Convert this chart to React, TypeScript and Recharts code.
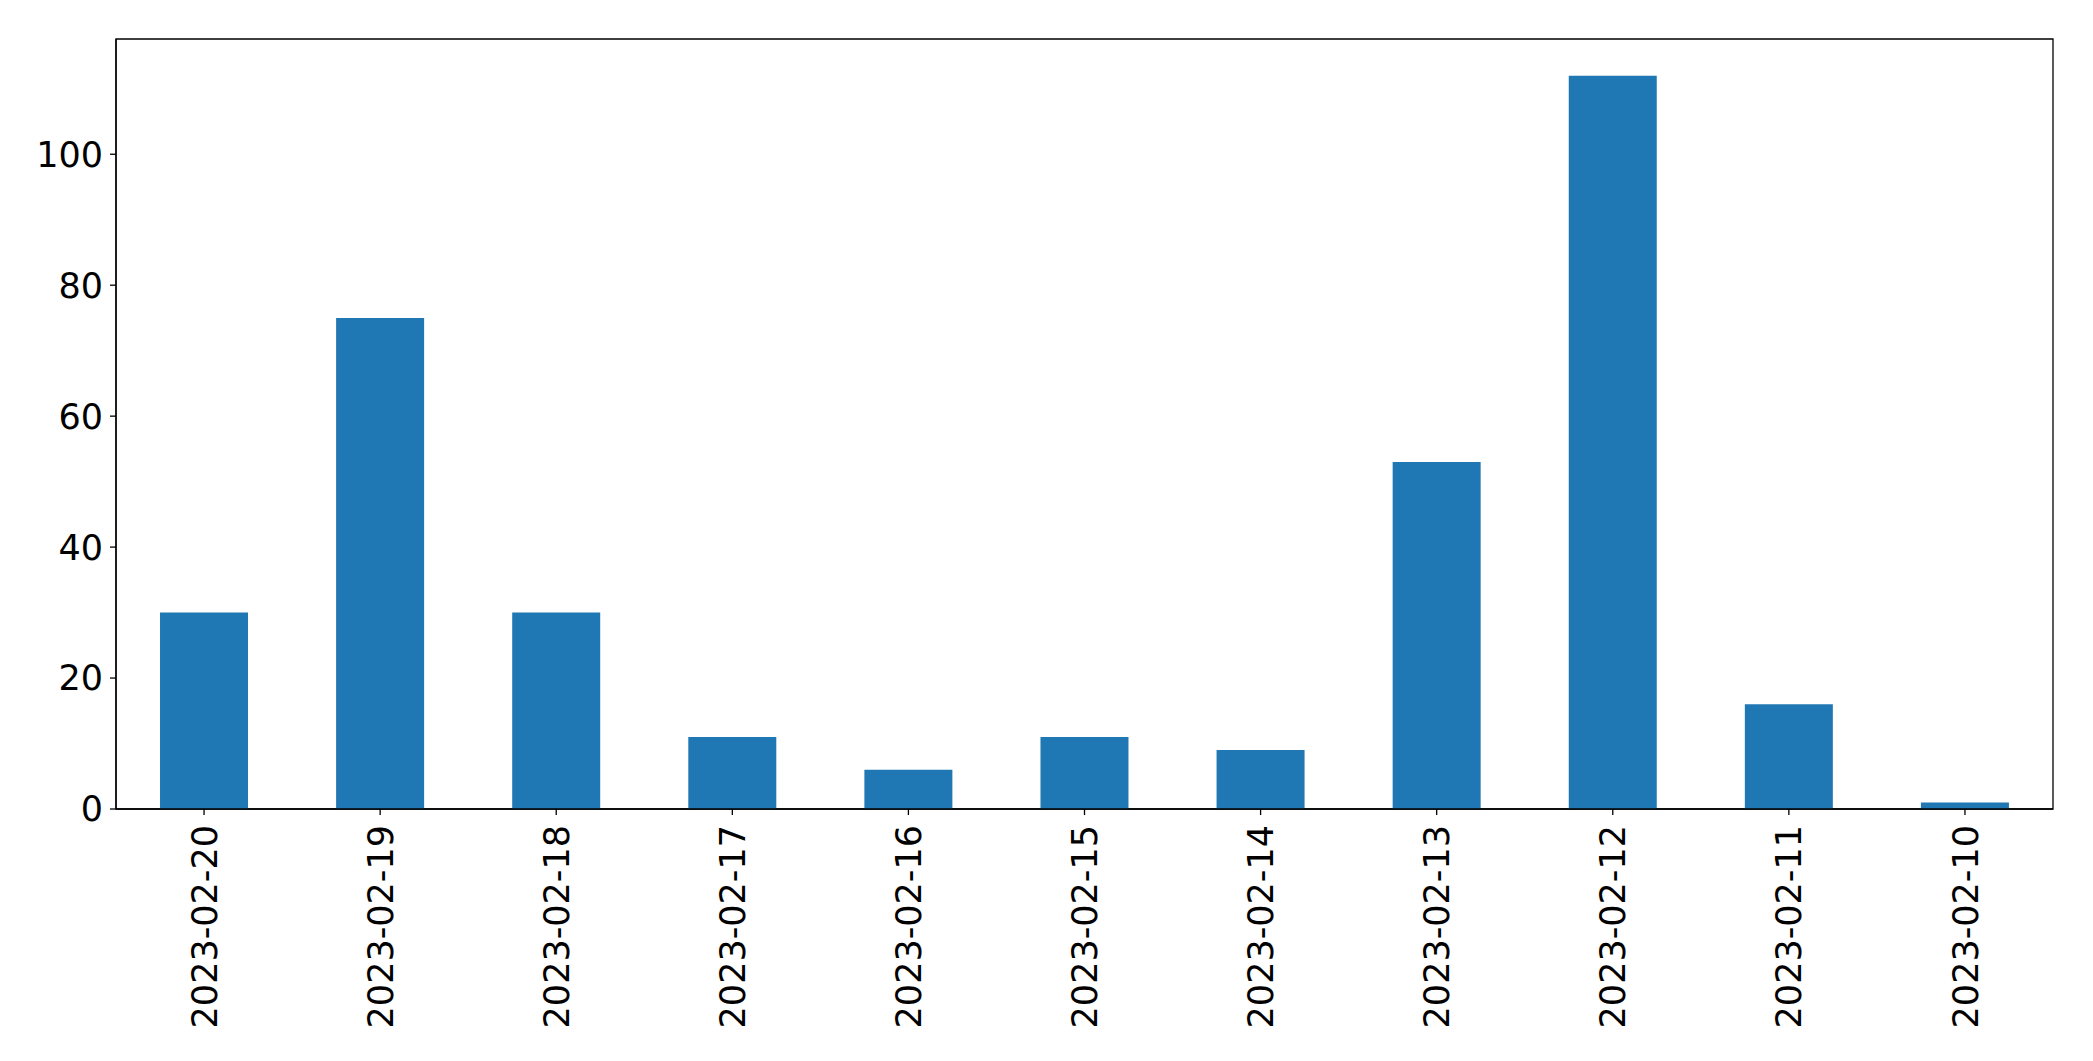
import React from "react"
import {
  BarChart,
  Bar,
  XAxis,
  YAxis,
  ReferenceArea,
} from "recharts"

// ── Data ──────────────────────────────────────────────────────────────────────

const dates = [
  "2023-02-20",
  "2023-02-19",
  "2023-02-18",
  "2023-02-17",
  "2023-02-16",
  "2023-02-15",
  "2023-02-14",
  "2023-02-13",
  "2023-02-12",
  "2023-02-11",
  "2023-02-10",
]

const counts = [30, 75, 30, 11, 6, 11, 9, 53, 112, 16, 1]

const yTicks = [0, 20, 40, 60, 80, 100]

const data = dates.map((d, i) => ({ date: d, count: counts[i] }))

const FONT = "'DejaVu Sans', sans-serif"
const FONT_SIZE = 35

// ── Rotated x tick ────────────────────────────────────────────────────────────

function DateTick({ x, y, payload }: { x: number; y: number; payload: { value: string } }) {
  return (
    <g transform={`translate(${x},${y})`}>
      <text
        transform="rotate(-90)"
        textAnchor="end"
        dy="0.36em"
        fill="#000"
        style={{ fontSize: FONT_SIZE, fontFamily: FONT }}
      >
        {payload.value}
      </text>
    </g>
  )
}

// ── Component ─────────────────────────────────────────────────────────────────

export default function App() {
  return (
    <div style={{ position: "absolute", left: 0, top: 0, background: "#fff" }}>
      <BarChart
        width={2093}
        height={1061}
        data={data}
        margin={{ top: 39, right: 40, bottom: 0, left: 0 }}
        barCategoryGap="25%"
      >
        <XAxis
          dataKey="date"
          height={252}
          interval={0}
          axisLine={{ stroke: "#000", strokeWidth: 1.3 }}
          tickLine={{ stroke: "#000", strokeWidth: 1.3 }}
          tickSize={6}
          tickMargin={10}
          tick={(props: any) => <DateTick {...props} />}
        />
        <YAxis
          width={116}
          domain={[0, 117.6]}
          ticks={yTicks}
          interval={0}
          axisLine={{ stroke: "#000", strokeWidth: 1.3 }}
          tickLine={{ stroke: "#000", strokeWidth: 1.3 }}
          tickSize={6}
          tickMargin={7}
          tick={{ fill: "#000", fontSize: FONT_SIZE, fontFamily: FONT }}
        />
        <Bar dataKey="count" fill="#1f77b4" isAnimationActive={false} />
        <ReferenceArea
          y1={0}
          y2={117.6}
          fill="none"
          stroke="#000"
          strokeWidth={1.3}
          ifOverflow="extendDomain"
        />
      </BarChart>
    </div>
  )
}
